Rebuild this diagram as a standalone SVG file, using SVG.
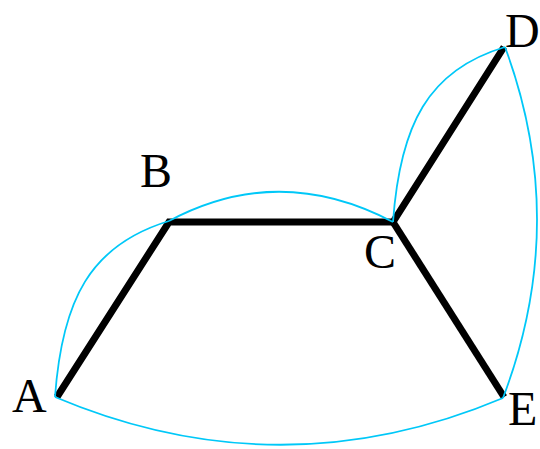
<svg xmlns="http://www.w3.org/2000/svg" width="540" height="449" viewBox="0 0 540 449">
<style>
.edge{stroke:#000;stroke-width:7;fill:none;stroke-linecap:butt;stroke-linejoin:miter}
.curve{stroke:#00C8F8;stroke-width:1.8;fill:none}
.lbl{font-family:"Liberation Serif","Times New Roman",serif;font-size:48px;fill:#000}
</style>
<rect width="540" height="449" fill="#fff"/>
<g id="connectors">
<path class="edge" d="M57,397 L169,222 L393,222 L504,47"/>
<path class="edge" d="M393,222 L504,397"/>
<path class="curve" d="M55,397 C62,300 90,245 169,221"/>
<path class="curve" d="M169,221 Q279,162 393,222"/>
<path class="curve" d="M393,222 C400,125 428,70 505,47"/>
<path class="curve" d="M505,47 Q570,222 503,398"/>
<path class="curve" d="M503,398 Q280,492 55,397"/>
</g>
<g id="A"><text class="lbl" x="12" y="412">A</text></g>
<g id="B"><text class="lbl" x="140" y="187">B</text></g>
<g id="C"><text class="lbl" x="364" y="268">C</text></g>
<g id="D"><text class="lbl" x="505" y="47">D</text></g>
<g id="E"><text class="lbl" x="508" y="425">E</text></g>
</svg>
